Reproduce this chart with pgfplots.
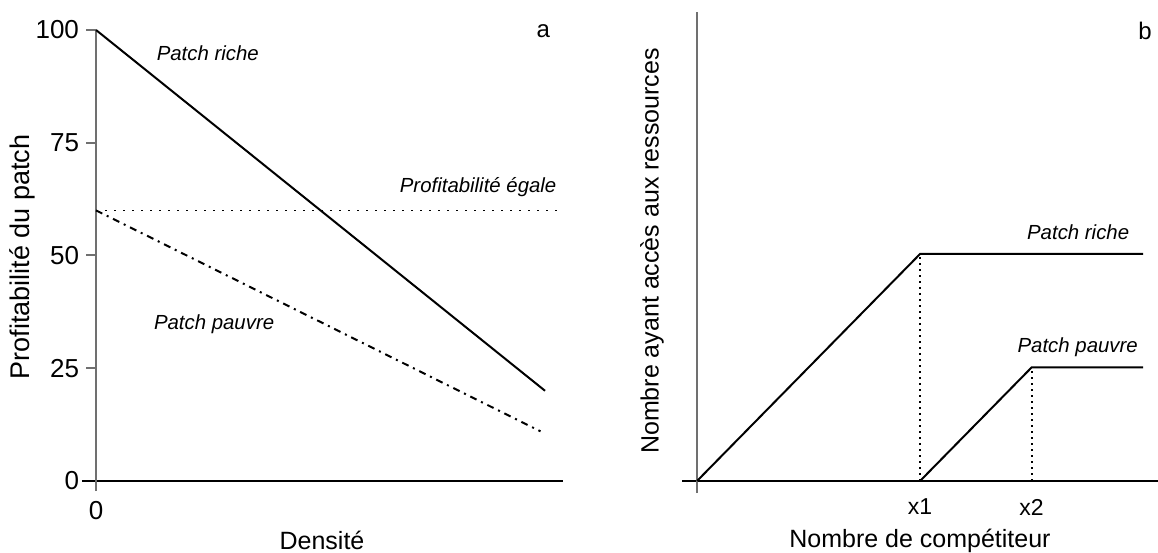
\documentclass[border=0pt]{standalone}
\usepackage{fontspec}
\setmainfont{Liberation Sans}
\usepackage{pgfplots}
\pgfplotsset{compat=1.18}
\definecolor{axegris}{RGB}{112,112,112}
\pgfplotsset{
  schema/.style={
    scale only axis, axis lines=middle, clip=false,
    axis line style={-},
    every inner x axis line/.append style={-, black, line width=0.75bp},
    every inner y axis line/.append style={-, axegris, line width=1bp},
    hide obscured x ticks=false, hide obscured y ticks=false,
    tick align=outside, major tick length=5bp,
    tick label style={font=\fontsize{13bp}{15bp}\selectfont},
    label style={font=\fontsize{12.5bp}{15bp}\selectfont},
    /pgf/number format/assume math mode=true,
  },
  trait/.style={black, line width=1bp, no markers},
}
\tikzset{
  note/.style={font=\fontsize{10.2bp}{12bp}\selectfont\itshape, anchor=base},
  lettre/.style={font=\fontsize{12bp}{14bp}\selectfont, anchor=base},
}
\begin{document}
\begin{tikzpicture}
\useasboundingbox (0,0) rectangle (579bp,276.5bp);
% panneau a
\begin{axis}[schema,
  at={(41bp,31bp)}, anchor=south west, width=240.5bp, height=230.5bp,
  xmin=-0.312, xmax=10.40, ymin=-2.22, ymax=100,
  xtick={0}, ytick={0,25,50,75,100},
  x tick style={draw=none},
  y tick style={axegris, line width=1bp},
  xticklabel style={yshift=-1.5bp},
  xlabel={Densité}, ylabel={Profitabilité du patch},
  xlabel style={at={(axis description cs:0.499,-0.108)}, anchor=center},
  ylabel style={at={(axis description cs:-0.125,0.508)}, anchor=center, rotate=90,
    font=\fontsize{13.5bp}{15bp}\selectfont},
]
\addplot[trait] coordinates {(0,100) (10,20)};
\addplot[trait, dash pattern=on 3.5bp off 2.5bp on 1bp off 2.5bp] coordinates {(0,60) (9.9,11)};
\addplot[trait, line width=0.8bp, dash pattern=on 0.8bp off 3.7bp] coordinates {(0,60) (10.33,60)};
\node[note] at (axis cs:2.49,93.2) {Patch riche};
\node[note] at (axis cs:8.51,63.9) {Profitabilité égale};
\node[note] at (axis cs:2.63,33.6) {Patch pauvre};
\node[lettre] at (axis cs:9.96,98.3) {a};
\end{axis}
% panneau b
\begin{axis}[schema,
  at={(341bp,30bp)}, anchor=south west, width=238bp, height=240.5bp,
  xmin=-0.673, xmax=20.67, ymin=-0.529, ymax=20.66,
  xtick={10,15}, xticklabels={x1,x2}, ytick=\empty,
  x tick style={draw=none},
  xticklabel style={yshift=-0.5bp, font=\fontsize{11.5bp}{13bp}\selectfont},
  xlabel={Nombre de compétiteur}, ylabel={Nombre ayant accès aux ressources},
  xlabel style={at={(axis description cs:0.5,-0.0998)}, anchor=center},
  ylabel style={at={(axis description cs:-0.063,0.503)}, anchor=center, rotate=90},
]
\addplot[trait] coordinates {(0,0) (10,10) (20,10)};
\addplot[trait] coordinates {(10,0) (15,5) (20,5)};
\addplot[trait, dash pattern=on 1bp off 2bp] coordinates {(10,0) (10,10)};
\addplot[trait, dash pattern=on 1bp off 2bp] coordinates {(15,0) (15,5)};
\node[note] at (axis cs:17.09,10.62) {Patch riche};
\node[note] at (axis cs:17.07,5.68) {Patch pauvre};
\node[lettre] at (axis cs:20.09,19.43) {b};
\end{axis}
\end{tikzpicture}
\end{document}
